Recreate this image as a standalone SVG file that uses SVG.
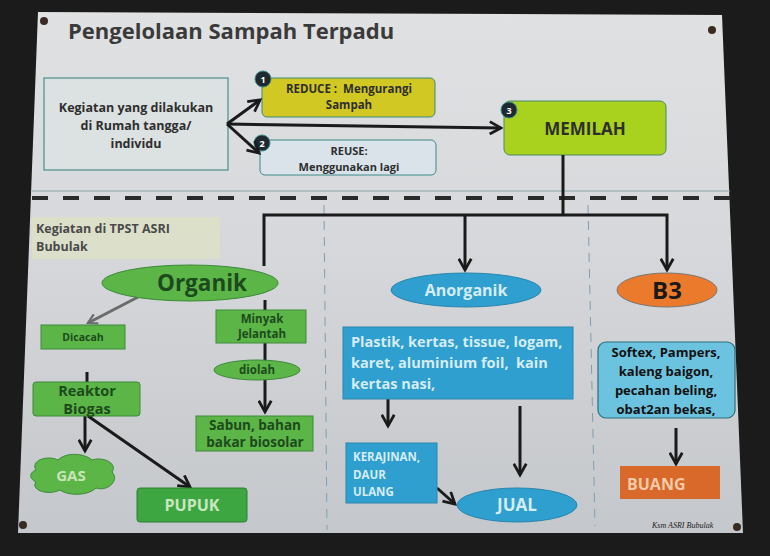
<svg xmlns="http://www.w3.org/2000/svg" width="770" height="556" viewBox="0 0 770 556">
<defs>
<linearGradient id="banner" x1="0" y1="0" x2="0" y2="1">
<stop offset="0" stop-color="#e0e1e2"/>
<stop offset="0.4" stop-color="#d8d9dc"/>
<stop offset="1" stop-color="#c4c7cb"/>
</linearGradient>
<marker id="ah" viewBox="0 0 12 12" refX="10" refY="6" markerWidth="5" markerHeight="5" orient="auto" markerUnits="strokeWidth">
<path d="M1,1 L10,6 L1,11" fill="none" stroke="#1a1a1a" stroke-width="2.2"/>
</marker>
<marker id="ahg" viewBox="0 0 12 12" refX="10" refY="6" markerWidth="4" markerHeight="4" orient="auto" markerUnits="strokeWidth">
<path d="M1,1 L10,6 L1,11" fill="none" stroke="#6b6b6b" stroke-width="2.2"/>
</marker>
</defs>
<style>
.t{font-family:"Open Sans","Liberation Sans",sans-serif;font-weight:bold;white-space:pre}
.dk{fill:#2e2e2e}
.gn{fill:#5cb547;stroke:#3c8a3a;stroke-width:1}
.gt{fill:#1d4a1d}
.bl{fill:#2e9fcf;stroke:#2a86ad;stroke-width:1}
.lt{fill:#d6ecf3}
.ln{fill:none;stroke:#1a1a1a;stroke-width:3}
.num{fill:#1f2a30;stroke:#3a8a8a;stroke-width:1}
.numt{fill:#ffffff;font-size:9px}
.pin{fill:#3a2a22}
</style>
<rect width="770" height="556" fill="#1b1b1c"/>
<polygon points="38,12 722,15 743,533 18,533" fill="url(#banner)"/>
<circle class="pin" cx="44" cy="21" r="4"/>
<circle class="pin" cx="712" cy="30" r="4"/>
<circle class="pin" cx="23" cy="525" r="4"/>
<circle class="pin" cx="737" cy="527" r="4"/>

<text class="t" x="68" y="39" font-size="22" fill="#3a3a3a">Pengelolaan Sampah Terpadu</text>

<line x1="32" y1="191" x2="730" y2="191" stroke="#8aa3a8" stroke-width="1"/>
<line x1="32" y1="198" x2="730" y2="198" stroke="#2a2a2a" stroke-width="4" stroke-dasharray="16,15"/>
<line x1="324" y1="205" x2="327" y2="530" stroke="#7e9fb0" stroke-width="1" stroke-dasharray="9,7"/>
<line x1="588" y1="205" x2="595" y2="526" stroke="#7e9fb0" stroke-width="1" stroke-dasharray="9,7"/>

<g id="rumah">
<rect x="44" y="78" width="184" height="92" fill="#dce1e1" stroke="#4f8c8c" stroke-width="1.2"/>
<text class="t dk" font-size="12.5" text-anchor="middle"><tspan x="136" y="112">Kegiatan yang dilakukan</tspan><tspan x="136" y="130">di Rumah tangga/</tspan><tspan x="136" y="148">individu</tspan></text>
</g>
<g id="reduce">
<rect x="262" y="78" width="173" height="39" rx="5" fill="#d2c823" stroke="#3d8a7a" stroke-width="1"/>
<text class="t dk" font-size="11.5" text-anchor="middle"><tspan x="349" y="93">REDUCE :  Mengurangi</tspan><tspan x="349" y="109">Sampah</tspan></text>
<circle class="num" cx="263" cy="79" r="8"/><text class="t numt" x="263" y="82.5" text-anchor="middle">1</text>
</g>
<g id="reuse">
<rect x="260" y="140" width="176" height="35" rx="5" fill="#d9e3e9" stroke="#3d8a8a" stroke-width="1"/>
<text class="t dk" font-size="11" text-anchor="middle"><tspan x="349" y="155">REUSE:</tspan><tspan x="349" y="171">Menggunakan lagi</tspan></text>
<circle class="num" cx="262" cy="143" r="8"/><text class="t numt" x="262" y="146.5" text-anchor="middle">2</text>
</g>
<g id="memilah">
<rect x="504" y="101" width="162" height="54" rx="6" fill="#a9d21f" stroke="#4a8a6a" stroke-width="1"/>
<text class="t dk" font-size="17" x="585" y="135" text-anchor="middle">MEMILAH</text>
<circle class="num" cx="509" cy="110" r="8"/><text class="t numt" x="509" y="113.5" text-anchor="middle">3</text>
</g>

<g id="tpst">
<rect x="32" y="217" width="188" height="42" fill="#dde1c4" opacity="0.8"/>
<text class="t" font-size="12.5" fill="#4a4a4a"><tspan x="36" y="233">Kegiatan di TPST ASRI</tspan><tspan x="36" y="251">Bubulak</tspan></text>
</g>

<g id="connectors">
<line class="ln" x1="227" y1="124" x2="260" y2="100" stroke-width="2" marker-end="url(#ah)"/>
<line class="ln" x1="227" y1="124" x2="259" y2="153" stroke-width="2" marker-end="url(#ah)"/>
<line class="ln" x1="227" y1="124" x2="501" y2="128" stroke-width="2" marker-end="url(#ah)"/>
<polyline class="ln" points="563,155 563,216"/>
<polyline class="ln" points="264,266 264,215 667,215 667,270" marker-end="url(#ah)"/>
<line class="ln" x1="465" y1="215" x2="465" y2="270" marker-end="url(#ah)"/>
<line x1="140" y1="296" x2="88" y2="323" stroke="#6b6b6b" stroke-width="3" marker-end="url(#ahg)"/>
<line class="ln" x1="265" y1="300" x2="265" y2="412" marker-end="url(#ah)"/>
<line class="ln" x1="87" y1="372" x2="87" y2="383"/>
<line class="ln" x1="85" y1="416" x2="85" y2="451" marker-end="url(#ah)"/>
<line class="ln" x1="88" y1="416" x2="190" y2="487" marker-end="url(#ah)"/>
<line class="ln" x1="388" y1="396" x2="388" y2="426" marker-end="url(#ah)"/>
<line class="ln" x1="520" y1="406" x2="520" y2="475" marker-end="url(#ah)"/>
<line class="ln" x1="437" y1="488" x2="455" y2="504" marker-end="url(#ah)"/>
<line class="ln" x1="676" y1="428" x2="676" y2="464" marker-end="url(#ah)"/>
</g>

<g id="organik">
<ellipse class="gn" cx="190" cy="283" rx="88" ry="18"/>
<text class="t gt" font-size="22.5" x="202" y="291" text-anchor="middle">Organik</text>
</g>
<g id="dicacah">
<rect class="gn" x="41" y="325" width="84" height="24"/>
<text class="t gt" font-size="10.5" x="83" y="341" text-anchor="middle">Dicacah</text>
</g>
<g id="minyak">
<rect class="gn" x="216" y="310" width="90" height="33"/>
<text class="t gt" font-size="11.5" text-anchor="middle"><tspan x="262" y="323">Minyak</tspan><tspan x="262" y="338">Jelantah</tspan></text>
</g>
<g id="diolah">
<ellipse class="gn" cx="257" cy="370" rx="43" ry="10"/>
<text class="t gt" font-size="11.5" x="257" y="374" text-anchor="middle">diolah</text>
</g>
<g id="sabun">
<rect class="gn" x="196" y="416" width="117" height="35"/>
<text class="t gt" font-size="13.5" text-anchor="middle"><tspan x="255" y="430">Sabun, bahan</tspan><tspan x="255" y="447">bakar biosolar</tspan></text>
</g>
<g id="reaktor">
<rect class="gn" x="33" y="382" width="107" height="34" rx="3"/>
<text class="t gt" font-size="14.5" text-anchor="middle"><tspan x="87" y="396">Reaktor</tspan><tspan x="87" y="414">Biogas</tspan></text>
</g>
<g id="gas">
<path class="gn" d="M36,470 C30,460 48,455 58,460 C66,452 84,453 92,460 C104,456 118,464 112,472 C120,480 108,492 96,488 C88,496 68,496 60,490 C48,496 30,490 36,482 C28,478 30,472 36,470 Z" stroke="none"/>
<text class="t" font-size="15" fill="#c8e4b8" x="71" y="481" text-anchor="middle">GAS</text>
</g>
<g id="pupuk">
<rect x="137" y="488" width="110" height="34" rx="3" fill="#3ea640" stroke="#2f7f32"/>
<text class="t" font-size="16" fill="#c9e6c2" x="192" y="511" text-anchor="middle">PUPUK</text>
</g>

<g id="anorganik">
<ellipse class="bl" cx="466" cy="290" rx="75" ry="17"/>
<text class="t lt" font-size="16" x="466" y="296" text-anchor="middle">Anorganik</text>
</g>
<g id="plastik">
<rect class="bl" x="343" y="327" width="230" height="72" stroke="none"/>
<text class="t lt" font-size="14.5"><tspan x="351" y="347">Plastik, kertas, tissue, logam,</tspan><tspan x="351" y="368">karet, aluminium foil,  kain</tspan><tspan x="351" y="389">kertas nasi,</tspan></text>
</g>
<g id="kerajinan">
<rect class="bl" x="346" y="443" width="91" height="60" stroke="none"/>
<text class="t lt" font-size="11.5"><tspan x="353" y="461">KERAJINAN,</tspan><tspan x="353" y="479">DAUR</tspan><tspan x="353" y="496">ULANG</tspan></text>
</g>
<g id="jual">
<ellipse class="bl" cx="517" cy="505" rx="60" ry="17"/>
<text class="t lt" font-size="17" x="517" y="511" text-anchor="middle">JUAL</text>
</g>

<g id="b3">
<ellipse cx="667" cy="290" rx="50" ry="17" fill="#ec7a2c" stroke="#777" stroke-width="1"/>
<text class="t" font-size="24" fill="#1a1a1a" x="667" y="299" text-anchor="middle">B3</text>
</g>
<g id="softex">
<rect x="598" y="342" width="137" height="76" rx="8" fill="#6cc3df" stroke="#2b6f7c" stroke-width="1.2"/>
<text class="t" font-size="13" fill="#111" text-anchor="middle"><tspan x="666" y="357">Softex, Pampers,</tspan><tspan x="666" y="376">kaleng baigon,</tspan><tspan x="666" y="395">pecahan beling,</tspan><tspan x="666" y="414">obat2an bekas,</tspan></text>
</g>
<g id="buang">
<rect x="620" y="466" width="100" height="33" fill="#d8692a"/>
<text class="t" font-size="16" fill="#f0c9a8" x="627" y="490">BUANG</text>
</g>

<text x="652" y="528" font-family="Liberation Serif,serif" font-style="italic" font-size="8" fill="#222">Ksm ASRI Bubulak</text>
</svg>
